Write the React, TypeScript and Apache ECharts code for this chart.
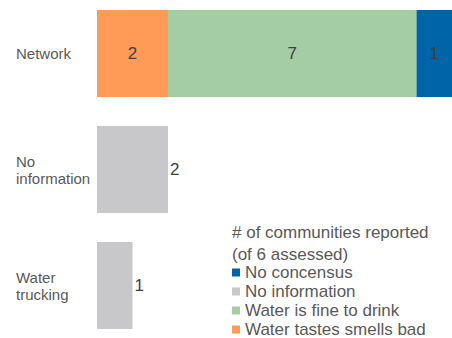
import React, { useEffect, useRef } from "react";
import * as echarts from "echarts";

const categories = ["Network", "No\ninformation", "Water\ntrucking"];
const tastesBad = [2, null, null];
const fineToDrink = [7, null, null];
const noConsensus = [1, null, null];
const noInformation = [null, 2, 1];
const legendTitleLines = ["# of communities reported", "(of 6 assessed)"];

const OFF = 5;

export default function App() {
  const ref = useRef<HTMLDivElement>(null);
  useEffect(() => {
    const chart = echarts.init(ref.current!, null, { renderer: "svg" });
    const font = "Liberation Sans, Arial, sans-serif";
    const insideLabel = {
      show: true,
      position: "inside",
      color: "#404040",
      fontSize: 17,
      fontFamily: font,
    };
    chart.setOption({
      animation: false,
      grid: { left: 97, right: 0, top: 0.5, height: 348, containLabel: false },
      xAxis: {
        type: "value",
        min: 0,
        max: 10,
        show: false,
      },
      yAxis: {
        type: "category",
        data: categories,
        inverse: true,
        axisLine: { show: false },
        axisTick: { show: false },
        axisLabel: {
          align: "left",
          margin: 81,
          color: "#595959",
          fontSize: 15,
          lineHeight: 17,
          fontFamily: font,
        },
      },
      legend: {
        orient: "vertical",
        left: 232,
        top: 264 + OFF,
        height: 120,
        padding: 0,
        itemWidth: 8,
        itemHeight: 8,
        itemGap: 2,
        icon: "rect",
        data: ["No concensus", "No information", "Water is fine to drink", "Water tastes smells bad"],
        textStyle: { color: "#595959", fontSize: 17, fontFamily: font },
      },
      graphic: legendTitleLines.map((t, i) => ({
        type: "text",
        left: 232,
        top: 224 + i * 22 + OFF,
        style: {
          text: t,
          fill: "#595959",
          fontSize: 17,
          lineHeight: 15,
          fontFamily: font,
        },
      })),
      series: [
        {
          name: "Water tastes smells bad",
          type: "bar",
          stack: "a",
          data: tastesBad,
          barWidth: "75%",
          itemStyle: { color: "#FF9B57" },
          label: insideLabel,
        },
        {
          name: "Water is fine to drink",
          type: "bar",
          stack: "a",
          data: fineToDrink,
          itemStyle: { color: "#A4CDA3" },
          label: insideLabel,
        },
        {
          name: "No concensus",
          type: "bar",
          stack: "a",
          data: noConsensus,
          itemStyle: { color: "#0065A8" },
          label: insideLabel,
        },
        {
          name: "No information",
          type: "bar",
          stack: "a",
          data: noInformation,
          itemStyle: { color: "#C8C8CA" },
          label: { ...insideLabel, position: "right", distance: 2 },
        },
      ],
    });
    return () => chart.dispose();
  }, []);
  return (
    <div
      ref={ref}
      style={{ width: 452, height: 350, position: "absolute", left: 0, top: -OFF }}
    />
  );
}
